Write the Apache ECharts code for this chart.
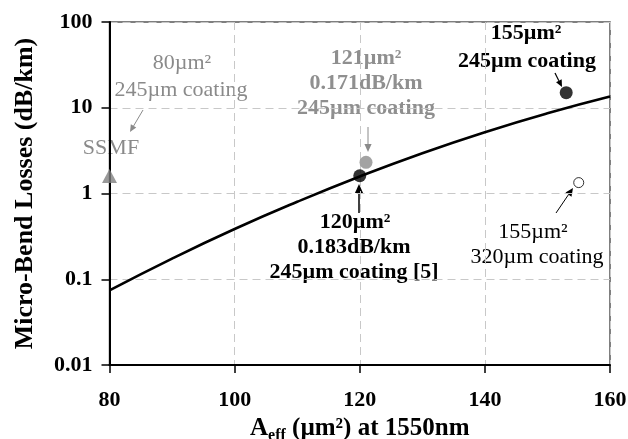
<!DOCTYPE html>
<html>
<head>
<meta charset="utf-8">
<script src="https://cdn.jsdelivr.net/npm/echarts@6/dist/echarts.min.js"></script>
<style>
html,body{margin:0;padding:0;background:#fff;}
#c{width:628px;height:439px;}
</style>
</head>
<body>
<div id="c"></div>
<script>
// ---- data ----
const curveAeff = [80, 90, 100, 110, 120, 130, 140, 150, 160];
const curveLoss = [0.074, 0.174, 0.385, 0.80, 1.58, 2.95, 5.19, 8.61, 13.5];
const ssmfAeff = [80];
const ssmfLoss = [1.6];
const grayAeff = [121];
const grayLoss = [2.31];
const blackAeff = [120, 153];
const blackLoss = [1.61, 15.0];
const openAeff = [155];
const openLoss = [1.34];
const xTicks = [80, 100, 120, 140, 160];
const yTickLabels = ['0.01', '0.1', '1', '10', '100'];

const FONT = '"Liberation Serif", "Times New Roman", serif';
const zip = (a, b) => a.map((v, i) => [v, b[i]]);

function arrow(x1, y1, x2, y2, color, w, head) {
  const ang = Math.atan2(y2 - y1, x2 - x1);
  const hx = x2 - head * Math.cos(ang), hy = y2 - head * Math.sin(ang);
  const px = Math.sin(ang) * head * 0.45, py = -Math.cos(ang) * head * 0.45;
  return [
    { type: 'line', shape: { x1: x1, y1: y1, x2: hx, y2: hy }, style: { stroke: color, lineWidth: w } },
    { type: 'polygon', shape: { points: [[x2, y2], [hx + px, hy + py], [hx - px, hy - py]] }, style: { fill: color } }
  ];
}
function txt(t, x, y, color, bold, size) {
  return { type: 'text', x: x, y: y, style: { text: t, fill: color, font: (bold ? 'bold ' : '') + size + 'px ' + FONT, align: 'center', verticalAlign: 'middle' } };
}
const G1 = '#8a8a8a';
const graphics = [].concat(
  [txt('80µm²', 182, 63, G1, false, 22), txt('245µm coating', 181, 90, G1, false, 22), txt('SSMF', 111, 148, G1, false, 22)],
  arrow(143, 110, 130, 132, G1, 1, 7),
  [txt('121µm²', 366, 58, '#8f8f8f', true, 22), txt('0.171dB/km', 366, 83, '#8f8f8f', true, 22), txt('245µm coating', 366, 108, '#8f8f8f', true, 22)],
  arrow(368, 127, 368, 152, G1, 1, 8),
  [txt('155µm²', 526, 33, '#000', true, 22), txt('245µm coating', 527, 61, '#000', true, 22)],
  arrow(555, 73, 562, 87, '#000', 1.2, 7),
  [txt('120µm²', 355, 222, '#000', true, 22), txt('0.183dB/km', 354, 247, '#000', true, 22), txt('245µm coating [5]', 354, 272, '#000', true, 22)],
  arrow(359, 213, 359, 184, '#000', 1.5, 9),
  [txt('155µm²', 533, 232, '#000', false, 22), txt('320µm coating', 537, 257, '#000', false, 22)],
  arrow(556, 213, 573, 188, '#000', 1, 8)
);

const chart = echarts.init(document.getElementById('c'), null, { renderer: 'canvas' });
chart.setOption({
  animation: false,
  backgroundColor: '#fff',
  grid: { left: 109.5, right: 18, top: 22, bottom: 74, containLabel: false, outerBoundsMode: 'none',
    show: true, borderColor: '#555', borderWidth: 1.5, backgroundColor: 'transparent' },
  xAxis: {
    type: 'value', min: xTicks[0], max: xTicks[xTicks.length - 1], interval: 20,
    axisLine: { lineStyle: { color: '#000', width: 2 } },
    axisTick: { show: true, length: 8, lineStyle: { color: '#000', width: 1.5 } },
    axisLabel: { margin: 24, color: '#000', fontFamily: FONT, fontWeight: 'bold', fontSize: 22 },
    splitLine: { show: true, lineStyle: { color: '#c8c8c8', width: 1, type: [8, 5] } },
    name: '{a|A}{s|eff}{a| (µm²) at 1550nm}', nameLocation: 'middle', nameGap: 43,
    nameTextStyle: { rich: {
      a: { fontFamily: FONT, fontWeight: 'bold', fontSize: 25, color: '#000' },
      s: { fontFamily: FONT, fontWeight: 'bold', fontSize: 16, color: '#000', verticalAlign: 'bottom', padding: [14, 0, 0, 0] }
    } }
  },
  yAxis: {
    type: 'log', logBase: 10, min: 0.01, max: 100,
    axisLine: { lineStyle: { color: '#000', width: 2 } },
    axisTick: { show: true, length: 8, lineStyle: { color: '#000', width: 1.5 } },
    axisLabel: { margin: 17, color: '#000', fontFamily: FONT, fontWeight: 'bold', fontSize: 22,
      formatter: v => yTickLabels[Math.round(Math.log10(v)) + 2] },
    splitLine: { show: true, lineStyle: { color: '#c8c8c8', width: 1, type: [8, 5] } },
    minorTick: { show: false },
    name: 'Micro-Bend Losses (dB/km)', nameLocation: 'middle', nameRotate: 90, nameGap: 71,
    nameTextStyle: { fontFamily: FONT, fontWeight: 'bold', fontSize: 26, color: '#000' }
  },
  series: [
    { type: 'line', data: zip(curveAeff, curveLoss), smooth: true, symbol: 'none',
      lineStyle: { color: '#000', width: 2.6 }, z: 3 },
    { type: 'scatter', data: zip(ssmfAeff, ssmfLoss), symbol: 'triangle', symbolSize: [15, 14],
      itemStyle: { color: '#808080' }, z: 4 },
    { type: 'scatter', data: zip(grayAeff, grayLoss), symbol: 'circle', symbolSize: 13,
      itemStyle: { color: '#8c8c8c' }, z: 4 },
    { type: 'scatter', data: zip(blackAeff, blackLoss), symbol: 'circle', symbolSize: 13,
      itemStyle: { color: '#000' }, z: 5 },
    { type: 'scatter', data: zip(openAeff, openLoss), symbol: 'circle', symbolSize: 10,
      itemStyle: { color: '#fff', borderColor: '#000', borderWidth: 1 }, z: 5 }
  ],
  graphic: graphics
});
</script>
</body>
</html>
